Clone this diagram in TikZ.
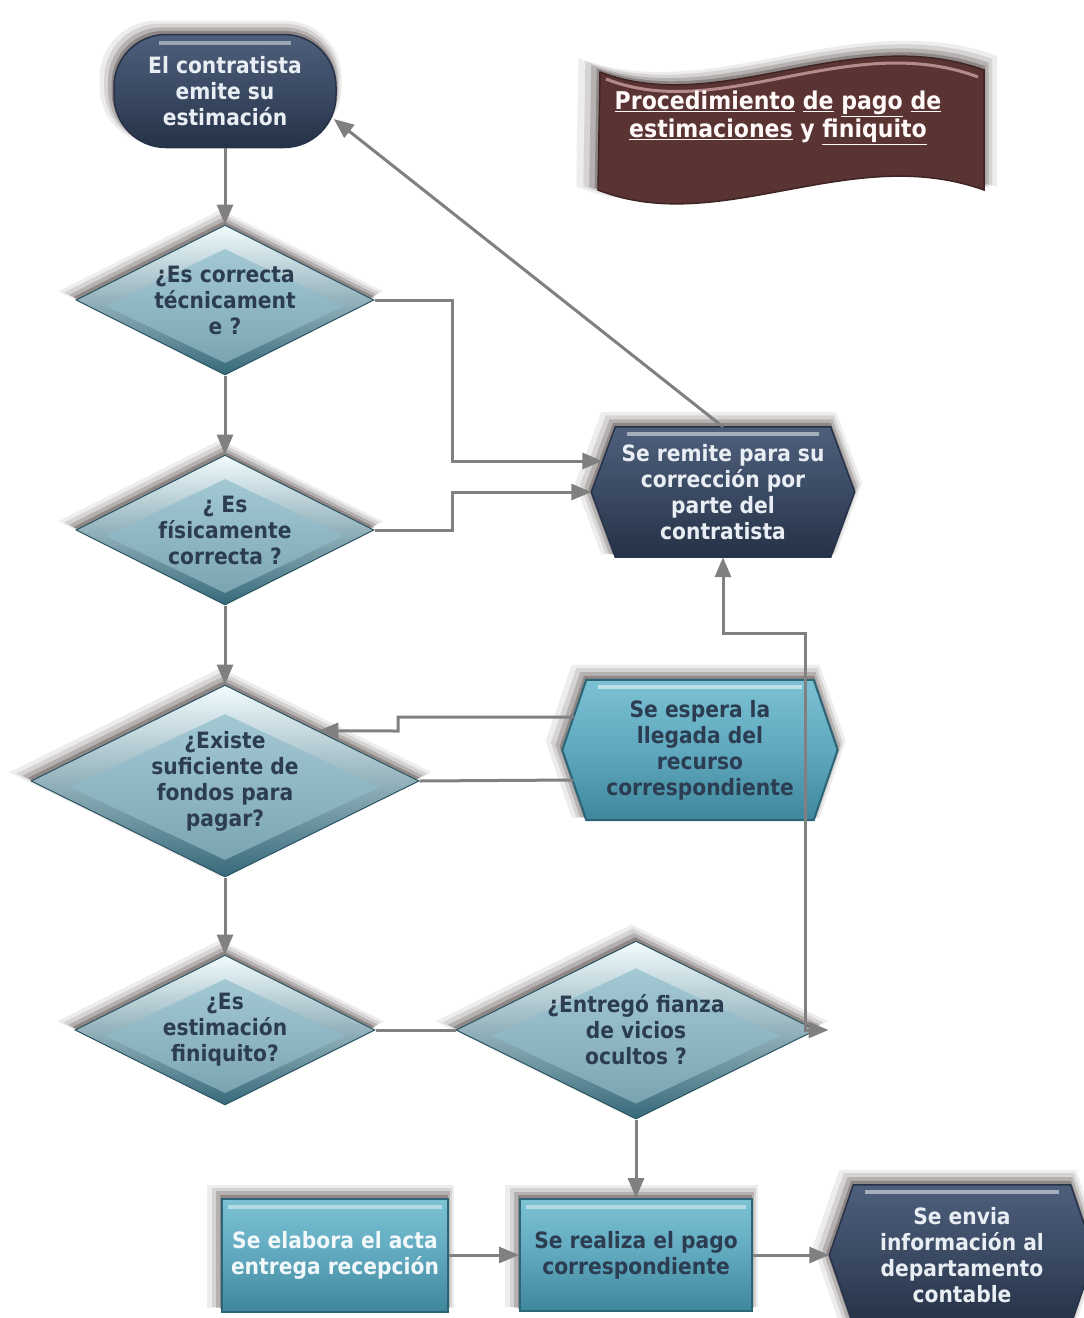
\documentclass[tikz,border=0pt]{standalone}
\usepackage{fontspec}
\setmainfont{DejaVu Sans}
\newfontfamily\dv[FakeStretch=0.9]{DejaVu Sans}
\usetikzlibrary{shapes.geometric,arrows.meta,shadows,calc}

\definecolor{navy}{HTML}{3B4A63}
\definecolor{navytop}{HTML}{4E5F7C}
\definecolor{navybot}{HTML}{253247}
\definecolor{tealbox}{HTML}{5FA8BE}
\definecolor{tealtop}{HTML}{7CC2D4}
\definecolor{tealbot}{HTML}{3E879D}
\definecolor{tealdark}{HTML}{2C6576}
\definecolor{dface}{HTML}{8CBBCA}
\definecolor{dlight}{HTML}{F2FCFE}
\definecolor{ddark}{HTML}{36697A}
\definecolor{txtdark}{HTML}{2C3D52}
\definecolor{txtlight}{HTML}{E8EEF3}
\definecolor{gline}{HTML}{808080}
\definecolor{banner}{HTML}{5A3333}
\definecolor{shad}{HTML}{2A1A1A}

\tikzset{
  txt/.style={font=\dv\bfseries\fontsize{22.5}{26}\selectfont, align=center, inner sep=0pt},
  halo/.style={
    general shadow={fill=shad, opacity=0.08, shadow scale=1.09, shadow xshift=-4pt, shadow yshift=8pt},
    general shadow={fill=shad, opacity=0.12, shadow scale=1.06, shadow xshift=-3pt, shadow yshift=7pt},
    general shadow={fill=shad, opacity=0.18, shadow scale=1.035, shadow xshift=-2pt, shadow yshift=5pt},
    general shadow={fill=shad, opacity=0.28, shadow scale=1.012, shadow xshift=-1pt, shadow yshift=3pt}},
  hibar/.style={path picture={\draw[line width=4pt, white, opacity=.45]
      ([xshift=#1,yshift=-8pt]path picture bounding box.north west) --
      ([xshift=-#1,yshift=-8pt]path picture bounding box.north east);}},
  navyfill/.style={top color=navytop, bottom color=navybot, middle color=navy, draw=navybot, line width=1.5pt},
  tealfill/.style={top color=tealtop, bottom color=tealbot, middle color=tealbox, draw=tealdark, line width=2pt},
  conn/.style={draw=gline, line width=3pt},
  arr/.style={conn, -{Triangle[length=20pt,width=16pt]}},
}

\newcommand\mydiam[5]{%
  \node[halo, diamond, inner sep=0pt, minimum width=#3, minimum height=#4,
        top color=dlight, middle color=dface!45!white, bottom color=ddark, draw=ddark!80!black, line width=1pt] (#1) at #2 {};
  \node[diamond, inner sep=0pt, minimum width={0.8*#3}, minimum height={0.76*#4},
        top color=dface!80!white, bottom color=dface!88!black] at ([yshift=-6pt]#1.center) {};
  \node[txt, text=txtdark] at (#1.center) {#5};
}

\newcommand\myhex[7]{%
  \node[inner sep=0pt, minimum width=#3, minimum height=#4] (#1) at #2 {};
  \path[halo, #5] (#1.west) -- ([xshift=24pt]#1.north west) -- ([xshift=-24pt]#1.north east)
     -- (#1.east) -- ([xshift=-24pt]#1.south east) -- ([xshift=24pt]#1.south west) -- cycle;
  \draw[line width=4pt, white, opacity=.5] ([xshift=36pt,yshift=-7pt]#1.north west) -- ([xshift=-36pt,yshift=-7pt]#1.north east);
  \node[txt, text=#6] at (#1.center) {#7};
}

\begin{document}
\begin{tikzpicture}[x=1pt,y=-1pt]
\fill[white] (0,0) rectangle (1084,1318);
\useasboundingbox (0,0) rectangle (1084,1318);

% title banner
\fill[halo, banner, draw=banner!70!black, line width=1.5pt]
  (600,72) .. controls (720,118) and (850,22) .. (984,70) -- (984,190)
  .. controls (850,142) and (720,238) .. (598,190) -- cycle;
\draw[line width=3pt, pink!70!white, opacity=.55]
  (606,79) .. controls (720,124) and (850,29) .. (978,77);
\node[font=\dv\bfseries\fontsize{24.5}{28}\selectfont, text=white!90!pink, align=center, inner sep=0pt] (title) at (778,118)
  {\underline{Procedimiento} \underline{de} \underline{pago} \underline{de}\\\underline{estimaciones} y \underline{finiquito}};

% terminal
\node[halo, rectangle, rounded corners=52pt, minimum width=222pt, minimum height=113pt,
      navyfill, hibar=45pt, txt, text=txtlight] (term) at (225,91) {El contratista\\emite su\\estimación};

% diamonds
\mydiam{d1}{(225,300)}{298pt}{150pt}{¿Es correcta\\técnicament\\e ?}
\mydiam{d2}{(225,530)}{298pt}{150pt}{¿ Es\\físicamente\\correcta ?}
\mydiam{d3}{(225,781)}{388pt}{192pt}{¿Existe\\suficiente de\\fondos para\\pagar?}
\mydiam{d4}{(225,1030)}{300pt}{150pt}{¿Es\\estimación\\finiquito?}
\mydiam{d5}{(636,1030)}{360pt}{178pt}{¿Entregó fianza\\de vicios\\ocultos ?}

% hexagons
\myhex{hex1}{(723,492)}{263pt}{130pt}{navyfill}{txtlight}{Se remite para su\\corrección por\\parte del\\contratista}
\myhex{hex2}{(700,750)}{275pt}{140pt}{tealfill}{txtdark}{Se espera la\\llegada del\\recurso\\correspondiente}
\myhex{hex3}{(962,1255)}{265pt}{140pt}{navyfill}{txtlight}{Se envia\\información al\\departamento\\contable}

% rectangles
\node[halo, rectangle, minimum width=226pt, minimum height=113pt, tealfill, hibar=6pt,
      txt, text=white!92!tealbox] (r1) at (335,1255) {Se elabora el acta\\entrega recepción};
\node[halo, rectangle, minimum width=232pt, minimum height=112pt, tealfill, hibar=6pt,
      txt, text=txtdark] (r2) at (636,1255) {Se realiza el pago\\correspondiente};

% connectors
\draw[arr] (term.south) -- (d1.north);
\draw[arr] (d1.south) -- (d2.north);
\draw[arr] (d2.south) -- (d3.north);
\draw[arr] (d3.south) -- (d4.north);
\draw[arr] (d1.east) -- (452,300) |- ($(hex1.west)+(11,-31)$);
\draw[arr] (d2.east) -- (452,530) |- (hex1.west);
\draw[arr] (hex1.north) -- ($(term.east)+(-3,28)$);
\draw[conn, {Triangle[length=20pt,width=16pt]}-{Triangle[length=20pt,width=16pt]}]
  ($(d5.east)+(12,0)$) -- (805,1030) -- (805,633) -| (hex1.south);
\draw[arr] ($(hex2.west)+(12,-33)$) -- (398,717) -- (398,731) -- ($(d3.north)!0.48!(d3.east)$);
\draw[conn] (d3.east) -- ($(hex2.west)+(11,30)$);
\draw[conn] (d4.east) -- (d5.west);
\draw[arr] (d5.south) -- (r2.north);
\draw[arr] (r1.east) -- (r2.west);
\draw[arr] (r2.east) -- (hex3.west);
\end{tikzpicture}
\end{document}
